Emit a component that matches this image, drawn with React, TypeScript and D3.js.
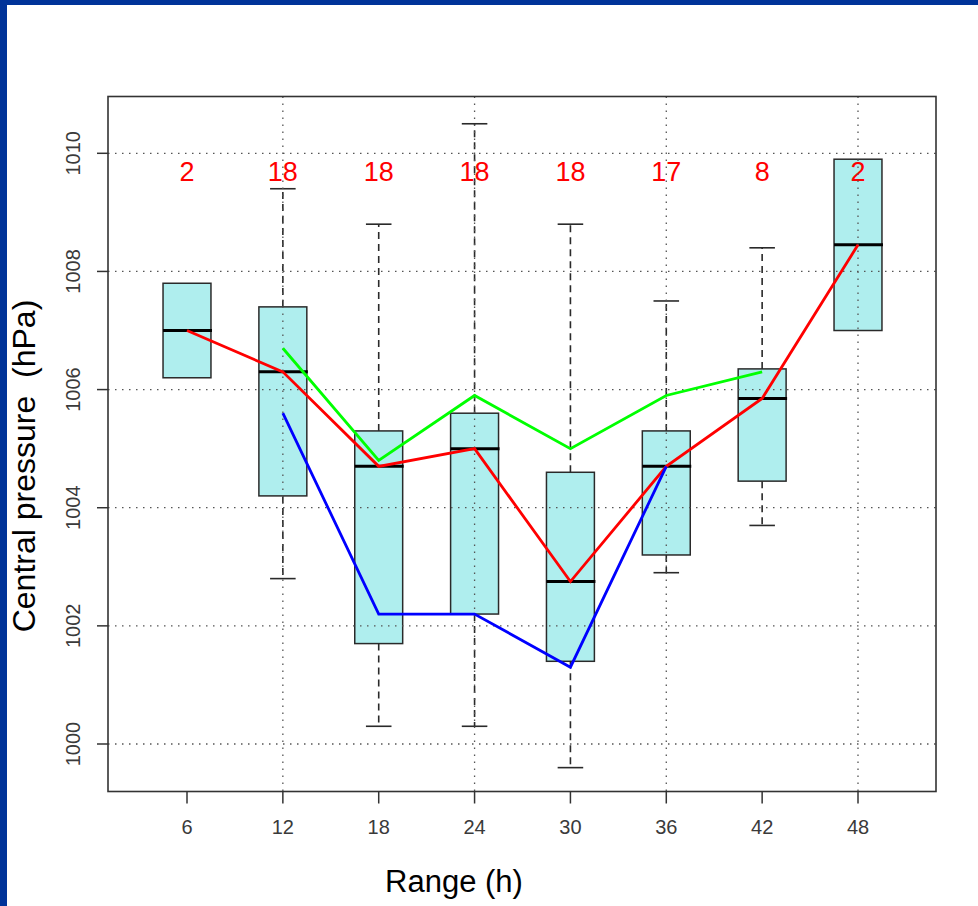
import React from "react"
import * as d3 from "d3"

// forecast range (h) and number of cases per range
const ranges = [6, 12, 18, 24, 30, 36, 42, 48]
const counts = [2, 18, 18, 18, 18, 17, 8, 2]

// five-number summaries
const whiskerLow = [1006.2, 1002.8, 1000.3, 1000.3, 999.6, 1002.9, 1003.7, 1007.0]
const q1 = [1006.2, 1004.2, 1001.7, 1002.2, 1001.4, 1003.2, 1004.45, 1007.0]
const medians = [1007.0, 1006.3, 1004.7, 1005.0, 1002.75, 1004.7, 1005.85, 1008.45]
const q3 = [1007.8, 1007.4, 1005.3, 1005.6, 1004.6, 1005.3, 1006.35, 1009.9]
const whiskerHigh = [1007.8, 1009.4, 1008.8, 1010.5, 1008.8, 1007.5, 1008.4, 1009.9]

// extra series
const greenRanges = [12, 18, 24, 30, 36, 42]
const greenValues = [1006.7, 1004.8, 1005.9, 1005.0, 1005.9, 1006.3]
const blueRanges = [12, 18, 24, 30, 36]
const blueValues = [1005.6, 1002.2, 1002.2, 1001.3, 1004.7]

const yTicks = [1000, 1002, 1004, 1006, 1008, 1010]
const xGrid = [12, 24, 36, 48]

const W = 978
const H = 906
const frame = { left: 108, right: 936, top: 96.5, bottom: 791.5 }

const App = () => {
	const x = d3.scaleLinear().domain([6, 48]).range([187, 858])
	const y = d3.scaleLinear().domain([1000, 1010]).range([744, 153.3])

	const boxHalf = x(7.5) - x(6)
	const capHalf = x(6.8) - x(6)

	const line = d3
		.line<[number, number]>()
		.x((d) => x(d[0]))
		.y((d) => y(d[1]))

	const redPath = line(ranges.map((r, i) => [r, medians[i]]))
	const greenPath = line(greenRanges.map((r, i) => [r, greenValues[i]]))
	const bluePath = line(blueRanges.map((r, i) => [r, blueValues[i]]))

	const font = "Liberation Sans, Arial, sans-serif"
	const boxStroke = "#2a2a2a"

	return (
		<svg
			width={W}
			height={H}
			style={{ position: "absolute", left: 0, top: 0, background: "#fff" }}
			fontFamily={font}
		>
			{/* slide border */}
			<rect x={0} y={0} width={W} height={5} fill="#003399" />
			<rect x={0} y={0} width={7} height={H} fill="#003399" />

			{/* boxes */}
			{ranges.map((r, i) => {
				const cx = x(r)
				return (
					<g key={r}>
						{whiskerHigh[i] > q3[i] && (
							<>
								<line
									x1={cx}
									x2={cx}
									y1={y(q3[i])}
									y2={y(whiskerHigh[i])}
									stroke={boxStroke}
									strokeWidth={1.6}
									strokeDasharray="7 5"
								/>
								<line
									x1={cx - capHalf}
									x2={cx + capHalf}
									y1={y(whiskerHigh[i])}
									y2={y(whiskerHigh[i])}
									stroke={boxStroke}
									strokeWidth={1.6}
								/>
							</>
						)}
						{whiskerLow[i] < q1[i] && (
							<>
								<line
									x1={cx}
									x2={cx}
									y1={y(q1[i])}
									y2={y(whiskerLow[i])}
									stroke={boxStroke}
									strokeWidth={1.6}
									strokeDasharray="7 5"
								/>
								<line
									x1={cx - capHalf}
									x2={cx + capHalf}
									y1={y(whiskerLow[i])}
									y2={y(whiskerLow[i])}
									stroke={boxStroke}
									strokeWidth={1.6}
								/>
							</>
						)}
						<rect
							x={cx - boxHalf}
							y={y(q3[i])}
							width={boxHalf * 2}
							height={y(q1[i]) - y(q3[i])}
							fill="#afeeee"
							stroke={boxStroke}
							strokeWidth={1.5}
						/>
						<line
							x1={cx - boxHalf}
							x2={cx + boxHalf + 1}
							y1={y(medians[i])}
							y2={y(medians[i])}
							stroke="#000"
							strokeWidth={3}
						/>
					</g>
				)
			})}

			{/* case counts */}
			{ranges.map((r, i) => (
				<text
					key={r}
					x={x(r)}
					y={181}
					textAnchor="middle"
					fontSize={27}
					fill="#ff0000"
				>
					{counts[i]}
				</text>
			))}

			{/* grid */}
			{yTicks.map((t) => (
				<line
					key={t}
					x1={frame.left}
					x2={frame.right}
					y1={y(t)}
					y2={y(t)}
					stroke="#555"
					strokeWidth={1.3}
					strokeDasharray="1.5 5.5"
				/>
			))}
			{xGrid.map((t) => (
				<line
					key={t}
					x1={x(t)}
					x2={x(t)}
					y1={frame.top}
					y2={frame.bottom}
					stroke="#555"
					strokeWidth={1.3}
					strokeDasharray="1.5 5.5"
				/>
			))}

			{/* series */}
			<path d={redPath} fill="none" stroke="#ff0000" strokeWidth={2.8} />
			<path d={greenPath} fill="none" stroke="#00ff00" strokeWidth={2.8} />
			<path d={bluePath} fill="none" stroke="#0000ff" strokeWidth={2.8} />

			{/* frame */}
			<rect
				x={frame.left}
				y={frame.top}
				width={frame.right - frame.left}
				height={frame.bottom - frame.top}
				fill="none"
				stroke="#333"
				strokeWidth={1.6}
			/>

			{/* x axis */}
			{ranges.map((r) => (
				<g key={r}>
					<line
						x1={x(r)}
						x2={x(r)}
						y1={frame.bottom}
						y2={frame.bottom + 12}
						stroke="#333"
						strokeWidth={1.5}
					/>
					<text
						x={x(r)}
						y={834}
						textAnchor="middle"
						fontSize={20}
						fill="#3a3a3a"
					>
						{r}
					</text>
				</g>
			))}

			{/* y axis */}
			{yTicks.map((t) => (
				<g key={t}>
					<line
						x1={frame.left - 11}
						x2={frame.left}
						y1={y(t)}
						y2={y(t)}
						stroke="#333"
						strokeWidth={1.5}
					/>
					<text
						transform={`translate(80, ${y(t)}) rotate(-90)`}
						textAnchor="middle"
						fontSize={20}
						fill="#3a3a3a"
					>
						{t}
					</text>
				</g>
			))}

			{/* axis titles */}
			<text x={454} y={892} textAnchor="middle" fontSize={31} fill="#000">
				Range (h)
			</text>
			<text
				transform="translate(35, 466) rotate(-90)"
				textAnchor="middle"
				fontSize={32}
				fill="#000"
				style={{ whiteSpace: "pre" }}
			>
				Central pressure  (hPa)
			</text>
		</svg>
	)
}

export default App
